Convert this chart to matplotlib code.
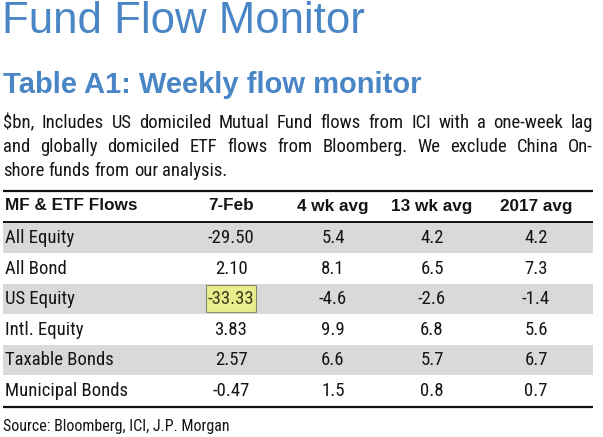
import matplotlib
matplotlib.use("Agg")
import matplotlib.pyplot as plt
from matplotlib.patches import Rectangle

# ---- data ----
title = "Fund Flow Monitor"
subtitle = "Table A1: Weekly flow monitor"
para_lines = [
    "$bn, Includes US domiciled Mutual Fund flows from ICI with a one-week lag",
    "and globally domiciled ETF flows from Bloomberg. We exclude China On-",
    "shore funds from our analysis.",
]
source = "Source: Bloomberg, ICI, J.P. Morgan"
columns = ["MF & ETF Flows", "7-Feb", "4 wk avg", "13 wk avg", "2017 avg"]
categories = ["All Equity", "All Bond", "US Equity", "Intl. Equity", "Taxable Bonds", "Municipal Bonds"]
week_flows = ["-29.50", "2.10", "-33.33", "3.83", "2.57", "-0.47"]
avg_4wk = ["5.4", "8.1", "-4.6", "9.9", "6.6", "1.5"]
avg_13wk = ["4.2", "6.5", "-2.6", "6.8", "5.7", "0.8"]
avg_2017 = ["4.2", "7.3", "-1.4", "5.6", "6.7", "0.7"]
highlight = ("US Equity", "7-Feb")

# ---- style / layout ----
W, H = 603, 437
BLUE = "#4a86c5"
GRAY = "#d9d9d9"
TXT = "#151515"
NARROW = ["Roboto Condensed", "PT Sans Narrow", "DejaVu Sans"]
ARIAL = ["Liberation Sans", "DejaVu Sans"]

fig = plt.figure(figsize=(W / 100, H / 100), dpi=100)
ax = fig.add_axes([0, 0, 1, 1])
ax.set_xlim(0, W)
ax.set_ylim(H, 0)
ax.axis("off")

ax.text(2, 33, title, fontsize=31.5, color=BLUE, family=ARIAL, va="baseline", ha="left")
ax.text(3, 93, subtitle, fontsize=21, color=BLUE, family=ARIAL, weight="bold",
        va="baseline", ha="left")

# justified paragraph
fig.canvas.draw()
renderer = fig.canvas.get_renderer()
left, right = 3, 593
para_base = [128, 152, 176]
PFS = 13.4
for i, line in enumerate(para_lines):
    words = line.split(" ")
    objs = [ax.text(0, para_base[i], w, fontsize=PFS, family=NARROW, color=TXT,
                    va="baseline", ha="left") for w in words]
    widths = [o.get_window_extent(renderer).width for o in objs]
    if i < len(para_lines) - 1:
        gap = (right - left - sum(widths)) / (len(words) - 1)
    else:
        sp = ax.text(0, 0, "a a", fontsize=PFS, family=NARROW)
        sa = ax.text(0, 0, "aa", fontsize=PFS, family=NARROW)
        gap = sp.get_window_extent(renderer).width - sa.get_window_extent(renderer).width
        sp.remove(); sa.remove()
    x = left
    for o, w in zip(objs, widths):
        o.set_x(x)
        x += w + gap

# table
col_x = [5, 231, 333, 432, 536]
header_y = 206
row_top0, row_h = 222.5, 30.5
rows = list(zip(categories, week_flows, avg_4wk, avg_13wk, avg_2017))
BFS = 13.5

ax.plot([3, 593], [191, 191], color="#111111", lw=1.6, solid_capstyle="butt")
ax.plot([3, 593], [222, 222], color="#111111", lw=1.4, solid_capstyle="butt")
for j, c in enumerate(columns):
    ax.text(col_x[j], header_y, c, fontsize=12.3, family=ARIAL, weight="bold", color=TXT,
            ha="left" if j == 0 else "center", va="center")

inv = ax.transData.inverted()
for i, r in enumerate(rows):
    top = row_top0 + i * row_h
    cy = top + row_h / 2
    if i % 2 == 0:
        ax.add_patch(Rectangle((3, top + 0.5), 590, row_h - 1.0, facecolor=GRAY,
                               edgecolor="none", zorder=0))
    for j, v in enumerate(r):
        if r[0] == highlight[0] and columns[j] == highlight[1]:
            t = ax.text(col_x[j], cy + 5.5, v, fontsize=BFS, family=NARROW, color="#3a3a1e",
                        ha="center", va="baseline", zorder=3)
            bb = t.get_window_extent(renderer)
            (x0, y0), (x1, y1) = inv.transform([[bb.x0, bb.y0], [bb.x1, bb.y1]])
            ax.add_patch(Rectangle((x0 - 2, top + 1.5), (x1 - x0) + 4, row_h - 4,
                                   facecolor="#e9ed8c", edgecolor="#8a8a70", lw=0.8, zorder=2))
            continue
        ax.text(col_x[j], cy + 5.5, v, fontsize=BFS, family=NARROW, color=TXT,
                ha="left" if j == 0 else "center", va="baseline")

ax.plot([3, 593], [407, 407], color="#111111", lw=1.6, solid_capstyle="butt")
ax.text(3, 431, source, fontsize=11.5, family=NARROW, color=TXT, va="baseline", ha="left")

fig.savefig("out.png", dpi=100)
